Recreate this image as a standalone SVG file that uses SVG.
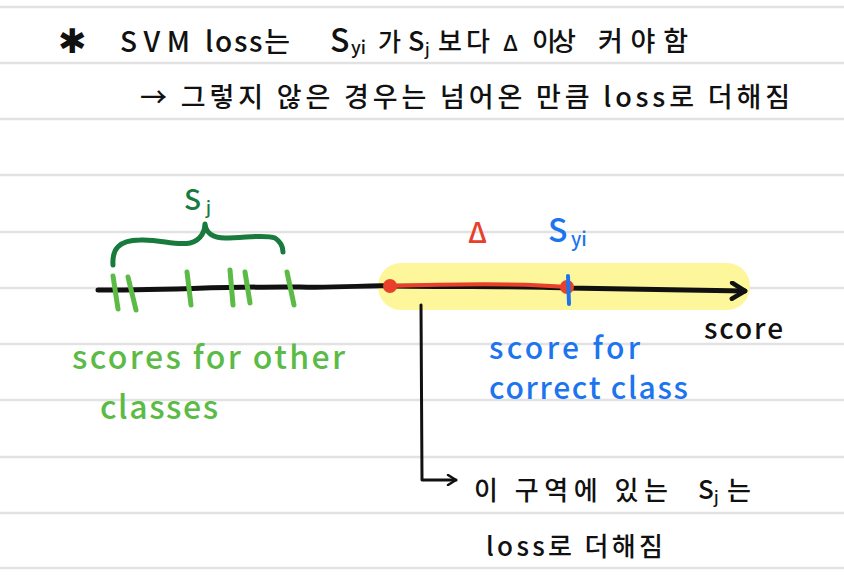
<svg xmlns="http://www.w3.org/2000/svg" width="844" height="582" viewBox="0 0 844 582">
<defs>
<style>
.rule{stroke:#e2e2e2;stroke-width:2.5}
.t{font-family:"Noto Sans CJK KR","Noto Sans",sans-serif;font-weight:500}
.k{fill:#111}
.g{fill:#5bbb46}
.b{fill:#1c74ef}
.r{fill:#e8402a}
.tick{stroke:#5bbb46;stroke-width:5;stroke-linecap:round}
</style>
<marker id="arr" viewBox="0 0 12 12" refX="10" refY="6" markerWidth="12" markerHeight="12" markerUnits="userSpaceOnUse" orient="auto">
<path d="M2,1 L10,6 L2,11" fill="none" stroke="#111" stroke-width="2.5" stroke-linecap="round" stroke-linejoin="round"/>
</marker>
<marker id="arrBig" viewBox="0 0 20 20" refX="17" refY="10" markerWidth="20" markerHeight="20" markerUnits="userSpaceOnUse" orient="auto">
<path d="M4,2 L17,10 L4,18" fill="none" stroke="#111" stroke-width="4.5" stroke-linecap="round" stroke-linejoin="round"/>
</marker>
</defs>
<rect width="844" height="582" fill="#ffffff"/>
<g id="rules">
<line class="rule" x1="0" y1="7" x2="844" y2="7"/>
<line class="rule" x1="0" y1="63" x2="844" y2="63"/>
<line class="rule" x1="0" y1="119" x2="844" y2="119"/>
<line class="rule" x1="0" y1="175" x2="844" y2="175"/>
<line class="rule" x1="0" y1="232" x2="844" y2="232"/>
<line class="rule" x1="0" y1="288" x2="844" y2="288"/>
<line class="rule" x1="0" y1="344" x2="844" y2="344"/>
<line class="rule" x1="0" y1="400" x2="844" y2="400"/>
<line class="rule" x1="0" y1="457" x2="844" y2="457"/>
<line class="rule" x1="0" y1="513" x2="844" y2="513"/>
<line class="rule" x1="0" y1="568" x2="844" y2="568"/>
</g>
<g id="title">
<text class="t k" x="58" y="53" font-size="34">✱</text>
<text class="t k" x="120" y="52" font-size="28" textLength="70" lengthAdjust="spacing">SVM</text>
<text class="t k" x="205" y="52" font-size="28" textLength="85" lengthAdjust="spacing">loss는</text>
<text class="t k" x="330" y="52" font-size="32">S</text>
<text class="t k" x="351" y="54" font-size="18">yi</text>
<text class="t k" x="378" y="51" font-size="25">가</text>
<text class="t k" x="408" y="51" font-size="27">S</text>
<text class="t k" x="425" y="55" font-size="16">j</text>
<text class="t k" x="438" y="51" font-size="26" textLength="52" lengthAdjust="spacing">보다</text>
<text class="t k" x="503" y="51" font-size="22">Δ</text>
<text class="t k" x="532" y="51" font-size="26" textLength="44" lengthAdjust="spacing">이상</text>
<text class="t k" x="598" y="51" font-size="27" textLength="90" lengthAdjust="spacing">커야함</text>
</g>
<g id="subtitle">
<text class="t k" x="140" y="107" font-size="27" textLength="650" lengthAdjust="spacing">→ 그렇지 않은 경우는 넘어온 만큼 loss로 더해짐</text>
</g>
<g id="highlight">
<rect x="378" y="263" width="372" height="47" rx="23" fill="#fdf69a"/>
</g>
<g id="axis">
<path d="M98,290 C160,290 250,286 300,287 C340,288 370,285 390,286 C470,287 520,286 568,288 L745,291" fill="none" stroke="#111" stroke-width="5" stroke-linecap="round" marker-end="url(#arrBig)"/>
<text class="t k" x="704" y="339" font-size="28" textLength="79" lengthAdjust="spacing">score</text>
</g>
<g id="sj-ticks">
<line class="tick" x1="113" y1="276" x2="118" y2="309"/>
<line class="tick" x1="128" y1="277" x2="136" y2="310"/>
<line class="tick" x1="187" y1="272" x2="191" y2="305"/>
<line class="tick" x1="230" y1="270" x2="233" y2="305"/>
<line class="tick" x1="245" y1="272" x2="250" y2="303"/>
<line class="tick" x1="287" y1="272" x2="294" y2="305"/>
</g>
<g id="sj-brace">
<path d="M113,265 C112,250 118,240 140,240 C160,239 175,246 190,243 C202,240 205,230 205,224 C206,233 213,238 225,238 C245,238 265,234 275,238 C281,242 283,247 283,252" fill="none" stroke="#187a3d" stroke-width="5" stroke-linecap="round" stroke-linejoin="round"/>
<text class="t" x="184" y="210" font-size="28" fill="#187a3d">S</text>
<text class="t" x="206" y="214" font-size="17" fill="#187a3d">j</text>
</g>
<g id="other-label">
<text class="t g" x="72" y="369" font-size="32" textLength="273" lengthAdjust="spacing">scores for other</text>
<text class="t g" x="100" y="419" font-size="32" textLength="118" lengthAdjust="spacing">classes</text>
</g>
<g id="delta">
<path d="M389,286 C450,284 520,283 568,287" fill="none" stroke="#e8402a" stroke-width="4"/>
<circle cx="390" cy="286" r="7" fill="#e8402a"/>
<circle cx="567" cy="287" r="7" fill="#e8402a"/>
<text class="t r" x="468" y="243" font-size="28">Δ</text>
</g>
<g id="syi">
<line x1="568" y1="276" x2="569" y2="304" stroke="#1c74ef" stroke-width="4" stroke-linecap="round"/>
<text class="t b" x="548" y="242" font-size="32">S</text>
<text class="t b" x="571" y="246" font-size="19">yi</text>
</g>
<g id="correct-label">
<text class="t b" x="489" y="359" font-size="30" textLength="151" lengthAdjust="spacing">score for</text>
<text class="t b" x="489" y="399" font-size="30" textLength="199" lengthAdjust="spacing">correct class</text>
</g>
<g id="connectors">
<path d="M421,305 L422,480 L456,480" fill="none" stroke="#111" stroke-width="3" stroke-linecap="round" stroke-linejoin="round" marker-end="url(#arr)"/>
</g>
<g id="note">
<text class="t k" x="474" y="500" font-size="26" textLength="194" lengthAdjust="spacing">이 구역에 있는</text>
<text class="t k" x="698" y="499" font-size="26">S</text>
<text class="t k" x="714" y="503" font-size="16">j</text>
<text class="t k" x="727" y="500" font-size="26">는</text>
<text class="t k" x="486" y="556" font-size="26" textLength="177" lengthAdjust="spacing">loss로 더해짐</text>
</g>
</svg>
